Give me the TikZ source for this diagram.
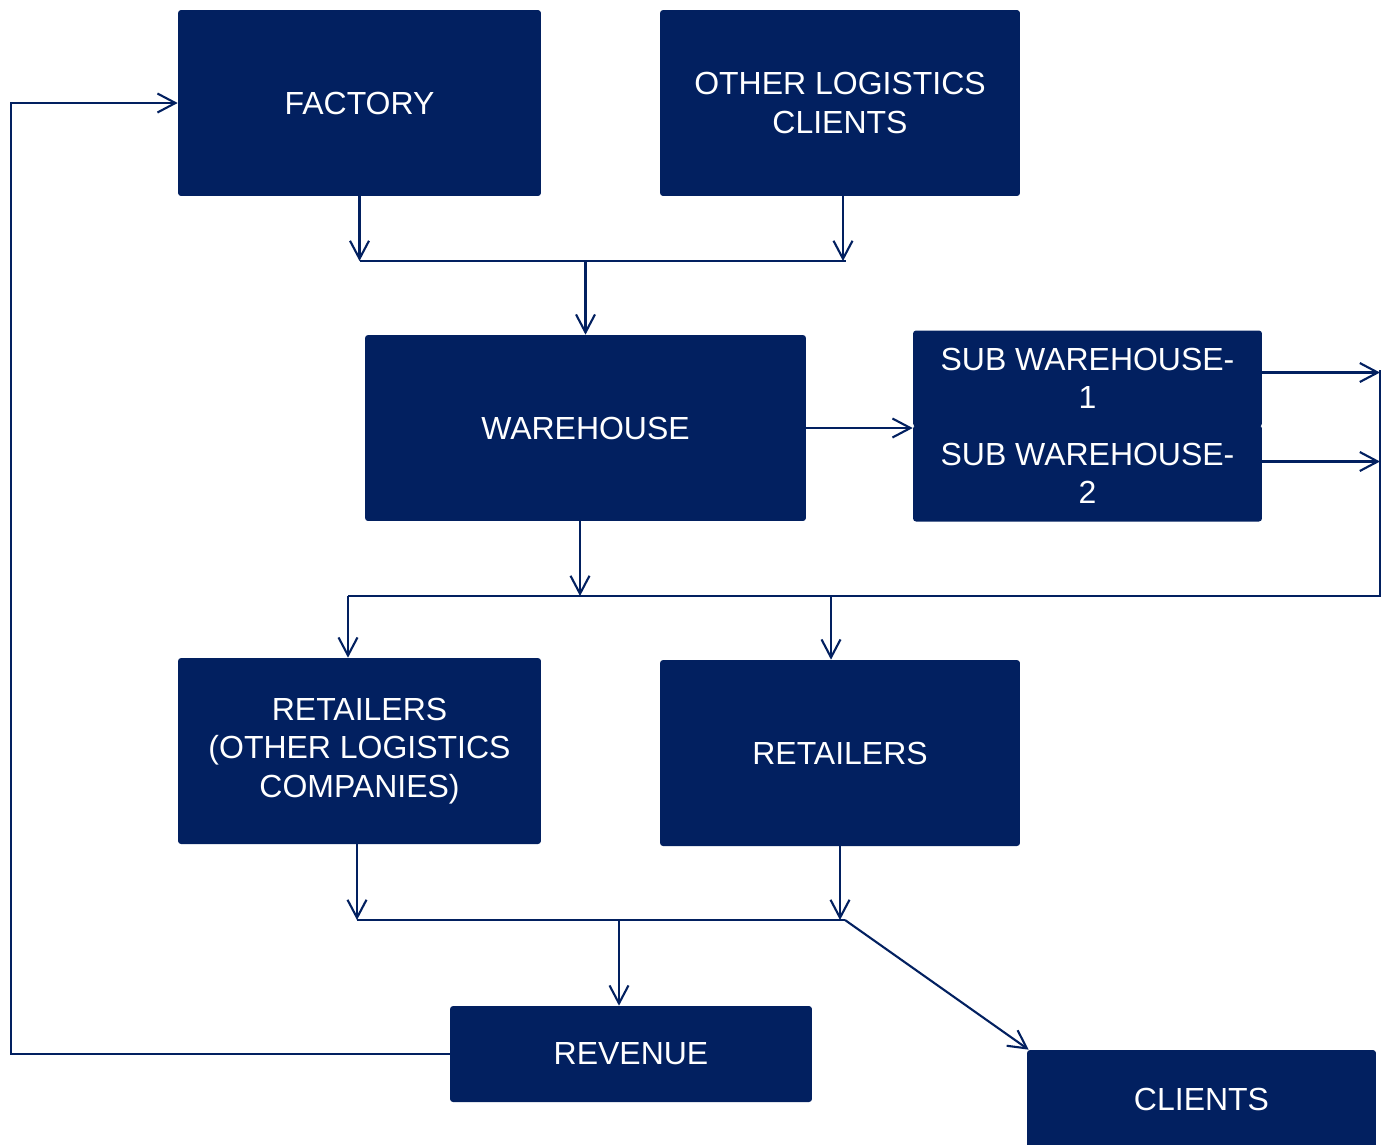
\documentclass[tikz,border=0pt]{standalone}
\usepackage{fontspec}
\setmainfont{Liberation Sans}
\usetikzlibrary{arrows.meta}
\definecolor{navy}{RGB}{2,32,96}
\tikzset{
  box/.style={fill=navy, text=white, rounded corners=0.6mm, align=center,
    inner sep=0pt, font=\fontsize{18.2}{21.8}\selectfont},
  ln/.style={draw=navy, line width=1.2pt},
  arr/.style={ln, -{Straight Barb[length=3.6mm,width=3.8mm,line width=1.2pt]}}
}
\begin{document}
\begin{tikzpicture}[x=0.02cm, y=-0.02cm]
\useasboundingbox (0,0) rectangle (1389,1144);
\clip (0,0) rectangle (1389,1144);

% boxes
\node[box, minimum width=7.26cm, minimum height=3.72cm] (fac) at (359.5,103) {FACTORY};
\node[box, minimum width=7.2cm, minimum height=3.72cm] (oth) at (840,103) {OTHER LOGISTICS\\CLIENTS};
\node[box, minimum width=8.82cm, minimum height=3.72cm] (wh) at (585.5,428) {WAREHOUSE};
\node[box, minimum width=6.98cm, minimum height=1.92cm] (sub1) at (1087.5,378.5) {SUB WAREHOUSE-\\1};
\node[box, minimum width=6.98cm, minimum height=1.92cm] (sub2) at (1087.5,473.5) {SUB WAREHOUSE-\\2};
\node[box, minimum width=7.26cm, minimum height=3.72cm] (ret1) at (359.5,751) {RETAILERS\\(OTHER LOGISTICS\\COMPANIES)};
\node[box, minimum width=7.2cm, minimum height=3.72cm] (ret2) at (840,753) {RETAILERS};
\node[box, minimum width=7.24cm, minimum height=1.92cm] (rev) at (631,1054) {REVENUE};
\node[box, minimum width=6.98cm, minimum height=1.96cm] (cli) at (1201.5,1099) {CLIENTS};

% junction points of the bus lines
\coordinate (b1l) at (360,261);
\coordinate (b1r) at (846,261);
\coordinate (b2l) at (348,596);
\coordinate (b2m) at (831,596);
\coordinate (rt) at (1380,596);
\coordinate (rtop) at (1380,370);
\coordinate (b3l) at (357,920);
\coordinate (b3m) at (619,920);
\coordinate (b3r) at (845,920);
\coordinate (lp) at (11,0);

% factory and other clients into warehouse
\draw[ln] (b1l) -- (b1r);
\draw[arr] (fac.south) -- (fac.south |- b1l);
\draw[arr] ([xshift=0.06cm]oth.south) -- ([xshift=0.06cm]oth.south |- b1l);
\draw[arr] (wh.north |- b1l) -- (wh.north);

% warehouse to sub warehouses
\draw[arr] (wh.east) -- (wh.east -| sub1.west);
\draw[arr] ([yshift=0.12cm]sub1.east) -- ([yshift=0.12cm]sub1.east -| rt);
\draw[arr] ([yshift=0.24cm]sub2.east) -- ([yshift=0.24cm]sub2.east -| rt);
\draw[ln] (rtop) -- (rt) -- (b2l);

% distribution to retailers
\draw[arr] ([xshift=-0.11cm]wh.south) -- ([xshift=-0.11cm]wh.south |- rt);
\draw[arr] (b2l) -- (b2l |- ret1.north);
\draw[arr] (b2m) -- (b2m |- ret2.north);

% retailers to revenue and clients
\draw[ln] (b3l) -- (b3r);
\draw[arr] ([xshift=-0.05cm]ret1.south) -- ([xshift=-0.05cm]ret1.south |- b3l);
\draw[arr] (ret2.south) -- (ret2.south |- b3l);
\draw[arr] (b3m) -- (b3m |- rev.north);
\draw[arr] (b3r) -- ([xshift=0.04cm]cli.north west);

% revenue back to the factory
\draw[arr] (rev.west) -- (rev.west -| lp) -- (lp |- fac.west) -- (fac.west);
\end{tikzpicture}
\end{document}
